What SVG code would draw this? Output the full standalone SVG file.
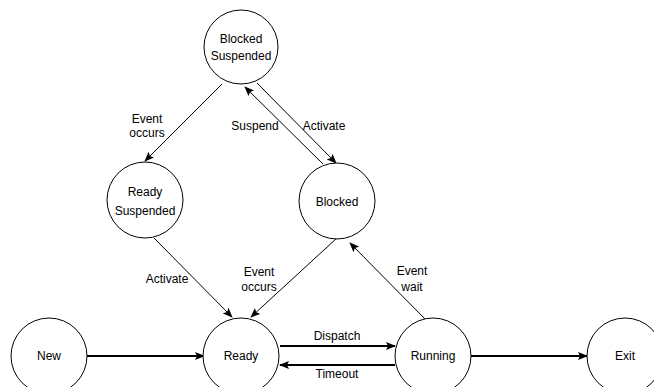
<svg xmlns="http://www.w3.org/2000/svg" width="654" height="387" viewBox="0 0 654 387">
<style>
.n{fill:#fff;stroke:#000;stroke-width:1}
.t{font-family:"Liberation Sans",Arial,sans-serif;font-size:12px;fill:#000;text-anchor:middle}
.e{stroke:#000;stroke-width:1;fill:none;marker-end:url(#a)}
.k{stroke:#000;stroke-width:2;fill:none;marker-end:url(#a)}
</style>
<defs>
<marker id="a" markerUnits="userSpaceOnUse" markerWidth="10" markerHeight="8" refX="9" refY="4" orient="auto">
<path d="M0,0 L10,4 L0,8 L2,4 z" fill="#000"/>
</marker>
</defs>
<g id="connectors">
<line class="e" x1="222" y1="84" x2="145" y2="161"/>
<line class="e" x1="323" y1="164" x2="245" y2="87"/>
<line class="e" x1="257" y1="83" x2="336" y2="163"/>
<line class="e" x1="154" y1="238" x2="232" y2="317"/>
<line class="e" x1="337" y1="238" x2="251" y2="317"/>
<line class="e" x1="425" y1="319" x2="350" y2="243"/>
<line class="k" x1="87" y1="356" x2="204" y2="356"/>
<line class="k" x1="280" y1="346" x2="395" y2="346"/>
<line class="k" x1="395" y1="365" x2="280" y2="365"/>
<line class="k" x1="471" y1="356" x2="587" y2="356"/>
<text class="t" x="147" y="123">Event</text>
<text class="t" x="147" y="137">occurs</text>
<text class="t" x="255" y="130">Suspend</text>
<text class="t" x="324" y="130">Activate</text>
<text class="t" x="167" y="283">Activate</text>
<text class="t" x="259" y="276">Event</text>
<text class="t" x="259" y="291">occurs</text>
<text class="t" x="412" y="275">Event</text>
<text class="t" x="412" y="291">wait</text>
<text class="t" x="337" y="340">Dispatch</text>
<text class="t" x="337" y="378">Timeout</text>
</g>
<g id="blocked-suspended"><circle class="n" cx="241" cy="47" r="37"/><text class="t" x="241" y="43">Blocked</text><text class="t" x="241" y="60">Suspended</text></g>
<g id="ready-suspended"><circle class="n" cx="145" cy="200" r="38"/><text class="t" x="145" y="196">Ready</text><text class="t" x="145" y="215">Suspended</text></g>
<g id="blocked"><circle class="n" cx="337" cy="201" r="38"/><text class="t" x="337" y="206">Blocked</text></g>
<g id="new"><circle class="n" cx="49" cy="356" r="38"/><text class="t" x="49" y="360">New</text></g>
<g id="ready"><circle class="n" cx="241" cy="356" r="38"/><text class="t" x="241" y="360">Ready</text></g>
<g id="running"><circle class="n" cx="433" cy="356" r="38"/><text class="t" x="433" y="360">Running</text></g>
<g id="exit"><circle class="n" cx="625" cy="356" r="38"/><text class="t" x="625" y="360">Exit</text></g>
</svg>
